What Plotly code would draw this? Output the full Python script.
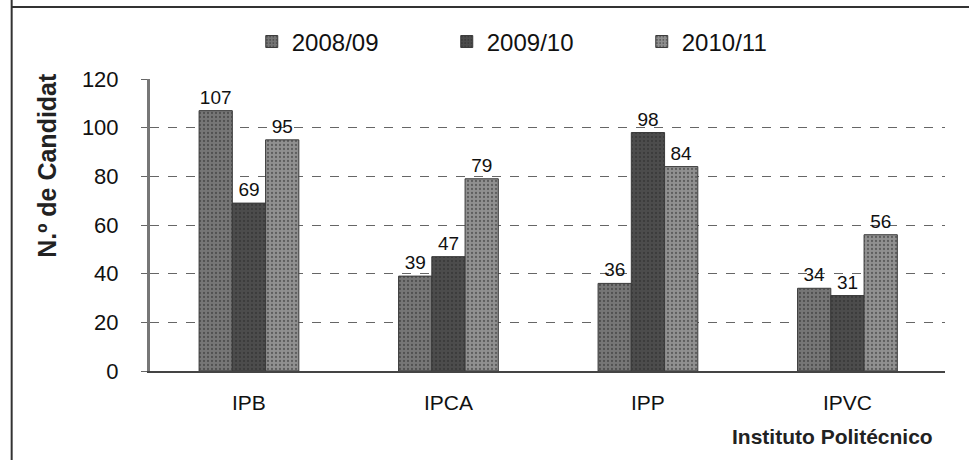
import plotly.graph_objects as go

categories = ["IPB", "IPCA", "IPP", "IPVC"]
series_names = ["2008/09", "2009/10", "2010/11"]
v_2008 = [107, 39, 36, 34]
v_2009 = [69, 47, 98, 31]
v_2010 = [95, 79, 84, 56]
y_ticks = [0, 20, 40, 60, 80, 100, 120]

colors = ["#767676", "#4c4c4c", "#909090"]
values = [v_2008, v_2009, v_2010]

fig = go.Figure()
for name, vals, col in zip(series_names, values, colors):
    fig.add_trace(go.Bar(
        x=categories, y=vals, name=name,
        marker=dict(color=col, line=dict(color="#3a3a3a", width=1),
                    pattern=dict(shape=".", fgcolor="#2a2a2a", bgcolor=col, size=4, solidity=0.25)),
        text=vals, textposition="outside", cliponaxis=False,
        textfont=dict(family="Liberation Sans, Arial", size=19, color="#111"),
    ))

fig.update_layout(
    width=969, height=460,
    margin=dict(l=150, r=24, t=79, b=89, autoexpand=False),
    paper_bgcolor="white", plot_bgcolor="white",
    barmode="group", bargap=0.5, bargroupgap=0,
    font=dict(family="Liberation Sans, Arial", color="#111"),
    legend=dict(orientation="h", x=0.128, y=1.127, xanchor="left", yanchor="middle",
                font=dict(size=24), entrywidth=150, entrywidthmode="pixels",
                itemwidth=30, traceorder="normal", bgcolor="rgba(0,0,0,0)"),
    xaxis=dict(range=[-0.496, 3.489], showgrid=False, showline=True, linecolor="#444",
               linewidth=2, ticks="", tickfont=dict(size=21), ticklabelstandoff=12),
    yaxis=dict(range=[0, 120], tickvals=y_ticks, showgrid=True, gridcolor="#666",
               griddash="dash", gridwidth=1, showline=True, linecolor="#777", linewidth=3,
               ticks="outside", ticklen=6, tickcolor="#666", tickfont=dict(size=22),
               ticklabelstandoff=18, zeroline=False),
    annotations=[
        dict(text="<b>N.º de Candidat</b>", xref="paper", yref="paper", x=-0.13, y=0.705,
             textangle=-90, showarrow=False, font=dict(size=25, color="#222"),
             xanchor="center", yanchor="middle"),
        dict(text="<b>Instituto Politécnico</b>", xref="paper", yref="paper", x=0.987, y=-0.226,
             showarrow=False, font=dict(size=21, color="#222"), xanchor="right", yanchor="middle"),
    ],
    shapes=[
        dict(type="line", xref="paper", yref="paper", x0=-0.174, x1=-0.174, y0=1.3, y1=-0.32,
             line=dict(color="#333", width=2)),
        dict(type="line", xref="paper", yref="paper", x0=-0.174, x1=1.04, y0=1.247, y1=1.247,
             line=dict(color="#333", width=2)),
    ],
)

fig.write_html("out.html", config={"displayModeBar": False},
               post_script="document.body.style.margin='0';")
